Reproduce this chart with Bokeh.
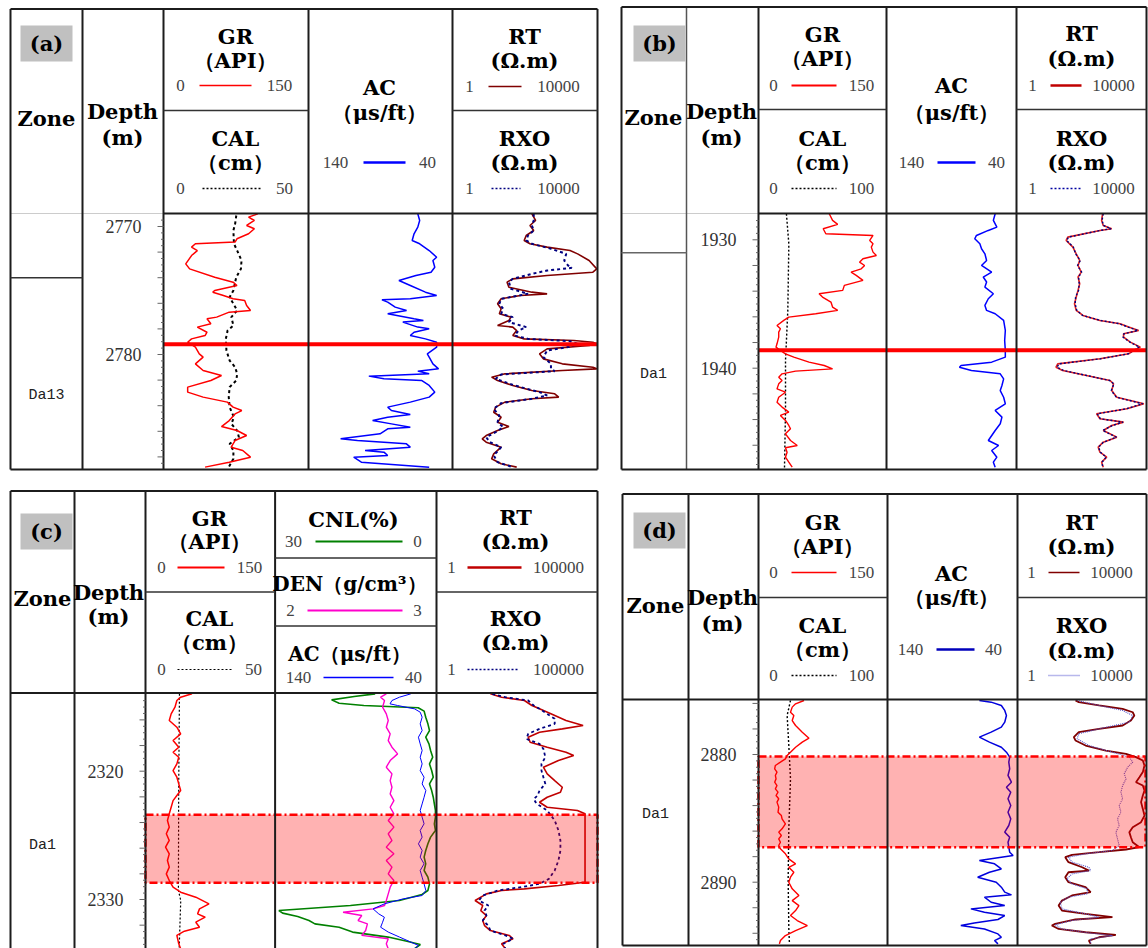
import numpy as np
from bokeh.plotting import figure
from bokeh.models import Range1d, LogScale
from bokeh.core.properties import value
from bokeh.embed import file_html
from bokeh.resources import INLINE

# ============================ DATA ============================
# ---------- panel (a) ----------
A_DEPTH_TICKS = [2770, 2780]
A_ZONE = "Da13"
A_ZONE_DEPTH = 2783.2
A_ZONE_TOP = 2774.0
A_MARK_DEPTH = 2779.2

A_GR_D = [2769.01, 2769.27, 2769.53, 2769.92, 2770.18, 2770.57, 2770.96, 2771.22, 2771.35, 2771.61,
          2771.88, 2772.27, 2772.92, 2773.31, 2773.96, 2774.35, 2774.61, 2775.0, 2775.13, 2775.39,
          2775.65, 2775.78, 2776.17, 2776.56, 2776.69, 2777.08, 2777.21, 2777.6, 2777.86, 2778.26,
          2778.52, 2778.78, 2779.04, 2779.43, 2779.95, 2780.21, 2780.73, 2781.25, 2781.64, 2782.03,
          2782.55, 2782.94, 2783.33, 2783.72, 2784.11, 2784.38, 2784.64, 2785.16, 2785.63, 2785.94,
          2786.33, 2786.72, 2787.24, 2787.5, 2788.02, 2788.41, 2788.8]
A_GR = [97.5, 88, 94, 86, 94, 88, 76, 74, 33, 29,
        35, 29, 23, 27, 53, 72, 76, 53, 51, 62,
        72, 84, 86, 90, 68, 55, 45, 49, 35, 45,
        43, 29, 25, 33, 37, 41, 33, 41, 60, 49,
        25, 25, 41, 66, 72, 81, 74, 68, 60, 76,
        86, 74, 70, 82, 90, 68, 43]

A_CAL_D = [2769.14, 2769.79, 2770.31, 2771.35, 2771.88, 2772.66, 2773.31, 2773.96, 2774.35, 2775.0,
           2775.52, 2776.04, 2776.56, 2777.08, 2777.73, 2778.13, 2778.78, 2779.69, 2780.47, 2780.99,
           2781.51, 2782.03, 2782.55, 2783.33, 2784.11, 2784.9, 2785.42, 2785.94, 2786.46, 2786.98,
           2787.5, 2788.15, 2788.8]
A_CAL = [25.1, 24.7, 24.1, 24.3, 25.4, 26.9, 26.7, 25.1, 24.7, 24.1,
         22.8, 24.1, 25.4, 23.4, 24.1, 22.1, 21.5, 21.7, 22.8, 24.7,
         25.4, 25.1, 22.8, 22.5, 22.8, 24.3, 23.4, 25.4, 26.0, 22.8,
         24.1, 24.1, 22.5]

A_AC_D = [2769.01, 2769.53, 2770.05, 2770.57, 2771.09, 2771.35, 2771.88, 2772.40, 2772.66, 2773.18,
          2773.57, 2773.83, 2774.22, 2774.61, 2775.13, 2775.39, 2775.65, 2775.73, 2775.91, 2776.30,
          2776.56, 2776.82, 2777.21, 2777.34, 2777.47, 2777.86, 2777.99, 2778.26, 2778.52, 2778.78,
          2779.04, 2779.43, 2779.95, 2780.21, 2780.73, 2781.12, 2781.30, 2781.51, 2781.69, 2781.90,
          2782.03, 2782.42, 2782.94, 2783.33, 2783.72, 2784.11, 2784.38, 2784.69, 2784.90, 2785.16,
          2785.42, 2785.68, 2785.81, 2786.20, 2786.59, 2786.72, 2786.98, 2787.24, 2787.50, 2787.63,
          2787.89, 2788.02, 2788.41, 2788.80]
A_AC = [64.1, 62.8, 64.1, 66.7, 68.0, 62.8, 56.2, 51.0, 53.6, 52.3,
        54.9, 65.4, 77.2, 69.3, 58.8, 51.0, 69.3, 89.0, 85.0, 79.8,
        71.9, 85.0, 66.7, 60.2, 74.5, 64.1, 56.2, 66.7, 69.3, 58.8,
        51.0, 51.0, 57.5, 56.2, 53.6, 49.7, 64.1, 56.2, 98.1, 87.6,
        61.5, 56.2, 52.3, 56.2, 69.3, 85.0, 82.4, 69.3, 85.0, 95.5,
        82.4, 69.3, 85.0, 90.3, 117.7, 106.0, 72.0, 69.3, 100.7, 87.6,
        85.0, 108.6, 103.3, 56.2]

A_RT_D = [2769.01, 2769.53, 2769.92, 2770.31, 2770.70, 2771.09, 2771.35, 2771.61, 2771.88, 2772.14,
          2772.66, 2773.31, 2773.57, 2773.83, 2774.09, 2774.35, 2774.74, 2775.13, 2775.26, 2775.39,
          2775.65, 2776.04, 2776.43, 2776.82, 2777.08, 2777.34, 2777.73, 2777.86, 2778.13, 2778.52,
          2778.78, 2778.91, 2779.04, 2779.17, 2779.30, 2779.56, 2779.95, 2780.34, 2780.73, 2780.99,
          2781.12, 2781.25, 2781.51, 2781.77, 2782.03, 2782.42, 2782.81, 2783.07, 2783.33, 2783.46,
          2783.72, 2784.11, 2784.51, 2784.90, 2785.29, 2785.63, 2785.94, 2786.33, 2786.59, 2786.85,
          2787.24, 2787.76, 2788.15, 2788.54, 2788.80]
A_RT = [155, 196, 137, 174, 108, 95, 137, 407, 1750, 2830,
        5870, 9540, 7460, 407, 46, 32, 36, 155, 407, 75,
        22, 17.5, 22, 19.6, 41, 36, 17.5, 46, 59, 46,
        95, 2230, 7460, 9540, 5870, 407, 251, 321, 1070, 7460,
        9540, 1070, 28, 12, 17.5, 46, 155, 660, 850, 155,
        28, 15.5, 13.7, 22, 17.5, 36, 17.5, 8.5, 6.6, 8.5,
        22, 13.7, 12, 22, 59]

A_RXO_D = [2769.01, 2769.53, 2769.92, 2770.31, 2770.70, 2771.09, 2771.35, 2771.74, 2772.14, 2772.66,
           2773.05, 2773.23, 2773.44, 2773.70, 2774.09, 2774.35, 2774.87, 2775.26, 2775.65, 2776.04,
           2776.43, 2776.82, 2777.08, 2777.47, 2777.86, 2778.13, 2778.52, 2778.78, 2778.96, 2779.17,
           2779.38, 2779.69, 2780.21, 2780.73, 2781.12, 2781.30, 2781.56, 2781.90, 2782.42, 2782.94,
           2783.20, 2783.46, 2783.80, 2784.24, 2784.77, 2785.29, 2785.68, 2786.07, 2786.46, 2786.85,
           2787.24, 2787.89, 2788.41, 2788.80]
A_RXO = [174, 174, 155, 174, 121, 108, 155, 520, 1370, 1210,
         1550, 1960, 407, 155, 46, 36, 41, 121, 22, 19.6,
         25, 22, 46, 36, 108, 66, 52, 121, 1750, 2830,
         1750, 407, 321, 520, 520, 660, 22, 15.5, 52, 251,
         407, 155, 22, 13.7, 19.6, 17.5, 25, 15.5, 8.5, 10.7,
         22, 13.7, 17.5, 46]

# ---------- panel (b) ----------
B_DEPTH_TICKS = [1930, 1940]
B_ZONE = "Da1"
B_ZONE_DEPTH = 1940.5
B_ZONE_TOP = 1931.0
B_MARK_DEPTH = 1938.6

B_GR_D = [1927.97, 1928.49, 1928.80, 1929.14, 1929.53, 1929.66, 1930.05, 1930.31, 1930.57, 1930.96,
          1931.22, 1931.48, 1931.74, 1932.00, 1932.26, 1932.52, 1932.77, 1933.16, 1933.55, 1933.94,
          1934.20, 1934.46, 1934.85, 1935.24, 1935.50, 1935.76, 1936.02, 1936.28, 1936.67, 1936.93,
          1937.19, 1937.58, 1938.10, 1938.36, 1938.62, 1938.88, 1939.14, 1939.53, 1939.79, 1940.05,
          1940.23, 1940.44, 1940.70, 1940.96, 1941.22, 1941.61, 1941.87, 1942.26, 1942.66, 1943.03,
          1943.42, 1943.68, 1944.07, 1944.46, 1944.72, 1945.11, 1945.63, 1946.02, 1946.20, 1946.54,
          1946.93, 1947.32, 1947.71]
B_GR = [82.9, 86.8, 92.8, 75.8, 78.9, 134.2, 130.3, 134.2, 132.2, 134.2,
        138.1, 122.4, 118.4, 124.3, 120.4, 108.5, 114.5, 122.4, 100.6, 98.7,
        71.0, 75.0, 84.9, 86.8, 92.8, 67.1, 35.5, 29.6, 21.7, 25.7,
        23.7, 23.7, 21.7, 20.5, 25.7, 31.6, 41.4, 59.2, 77.0, 86.8,
        43.4, 27.6, 23.7, 27.6, 23.7, 21.7, 31.6, 23.7, 21.7, 27.6,
        35.5, 25.7, 31.6, 35.5, 37.5, 31.6, 37.5, 45.4, 31.6, 33.5,
        31.6, 35.5, 39.5]

B_CAL_D = [1927.97, 1930.31, 1935.50, 1939.40, 1943.29, 1947.84]
B_CAL = [21.8, 23.7, 22.9, 21.1, 21.1, 20.3]

B_AC_D = [1927.97, 1928.49, 1929.01, 1929.27, 1929.66, 1929.92, 1930.31, 1930.70, 1931.09, 1931.61,
          1932.00, 1932.52, 1932.90, 1933.29, 1933.68, 1934.20, 1934.59, 1935.11, 1935.50, 1935.76,
          1936.28, 1937.06, 1937.84, 1938.62, 1939.14, 1939.53, 1939.79, 1939.92, 1940.18, 1940.44,
          1940.83, 1941.35, 1941.74, 1942.26, 1942.77, 1943.29, 1943.81, 1944.33, 1944.85, 1945.63,
          1946.02, 1946.41, 1946.93, 1947.32, 1947.71]
B_AC = [56.4, 57.8, 55.1, 61.7, 70.8, 72.1, 68.2, 66.9, 64.3, 63.0,
        66.9, 59.1, 65.6, 63.0, 64.3, 57.8, 61.7, 64.3, 63.0, 56.4,
        49.9, 48.6, 49.1, 48.6, 48.6, 59.1, 82.6, 83.9, 74.7, 52.5,
        49.9, 51.2, 52.5, 49.9, 48.6, 56.4, 51.2, 52.5, 56.4, 61.7,
        53.8, 59.1, 55.1, 57.8, 56.4]

B_RT_D = [1927.97, 1928.49, 1928.88, 1929.14, 1929.27, 1929.79, 1930.05, 1930.57, 1931.09, 1931.61,
          1932.00, 1932.52, 1932.90, 1933.42, 1933.94, 1934.46, 1934.98, 1935.50, 1935.89, 1936.28,
          1936.54, 1936.80, 1937.06, 1937.32, 1937.58, 1937.97, 1938.36, 1938.62, 1938.88, 1939.27,
          1939.66, 1939.92, 1940.18, 1940.57, 1940.96, 1941.22, 1941.74, 1942.26, 1942.77, 1943.16,
          1943.55, 1943.94, 1944.20, 1944.46, 1944.85, 1945.37, 1945.76, 1946.15, 1946.54, 1946.93,
          1947.32, 1947.71]
B_RT = [468, 436, 490, 895, 387, 39, 34.7, 56, 71, 91,
        81, 102, 81, 91, 81, 71, 63, 71, 115, 387,
        1630, 3000, 6150, 2090, 2090, 3380, 6930, 4270, 3000, 387,
        19, 16.8, 27, 147, 795, 1020, 895, 1290, 8900, 2650,
        303, 387, 2090, 895, 490, 1290, 490, 342, 387, 627,
        436, 490]
B_RXO = [490, 450, 500, 850, 400, 41, 36, 58, 68, 95,
         78, 105, 84, 88, 84, 68, 66, 74, 112, 400,
         1580, 2900, 5800, 2150, 2000, 3300, 6500, 4100, 2900, 400,
         21, 18, 29, 150, 780, 1050, 870, 1250, 8200, 2550,
         320, 400, 2000, 950, 470, 1250, 500, 350, 400, 600,
         450, 470]

# ---------- panel (c) ----------
C_DEPTH_TICKS = [2320, 2330]
C_ZONE = "Da1"
C_ZONE_DEPTH = 2325.8
C_BOX = [2323.4, 2328.7]

C_GR_D = [2313.97, 2314.23, 2314.49, 2315.01, 2315.53, 2316.05, 2316.57, 2317.09, 2317.61, 2318.13,
          2318.52, 2318.91, 2319.43, 2319.95, 2320.47, 2320.99, 2321.51, 2321.90, 2322.29, 2322.81,
          2323.32, 2323.84, 2324.36, 2324.88, 2325.40, 2325.92, 2326.44, 2326.96, 2327.48, 2328.00,
          2328.52, 2329.04, 2329.43, 2329.82, 2330.34, 2330.73, 2331.12, 2331.38, 2331.77, 2332.16,
          2332.47, 2332.80, 2333.45, 2333.84]
C_GR = [53.8, 40.7, 36.3, 34.1, 29.7, 27.5, 36.3, 40.7, 31.9, 38.5,
        31.9, 38.5, 36.3, 31.9, 36.3, 38.5, 40.7, 36.3, 31.9, 29.7,
        27.5, 25.4, 27.5, 24.1, 27.5, 23.2, 27.5, 25.4, 27.5, 24.1,
        27.5, 31.9, 40.7, 58.2, 73.5, 62.5, 60.3, 69.1, 58.2, 62.5,
        45.0, 36.3, 38.5, 40.7]

C_CAL_D = [2313.97, 2321.51, 2329.30, 2330.08, 2331.90, 2333.84]
C_CAL = [13.1, 12.8, 12.7, 13.6, 13.3, 13.0]

C_CNL_D = [2313.97, 2314.18, 2314.44, 2314.70, 2314.88, 2315.06, 2315.32, 2315.79, 2316.31, 2316.83,
           2317.35, 2317.87, 2318.39, 2318.91, 2319.43, 2319.95, 2320.47, 2320.99, 2321.51, 2322.03,
           2322.55, 2323.06, 2323.58, 2324.10, 2324.62, 2325.14, 2325.66, 2326.18, 2326.70, 2327.22,
           2327.74, 2328.26, 2328.78, 2329.30, 2329.61, 2330.08, 2330.47, 2330.86, 2331.06, 2331.32,
           2331.64, 2331.90, 2332.16, 2332.54, 2332.93, 2333.25, 2333.51, 2333.84]
C_CNL = [11.4, 15.3, 19.5, 18.1, 13.5, 3.4, 2.3, 2.0, 1.6, 1.3,
         2.0, 1.4, 1.1, 0.7, 1.3, 0.9, 0.6, 1.3, 0.9, 0.6,
         0.4, 0.2, 0.2, 0.4, 0.2, 1.1, 1.6, 2.0, 2.3, 2.0,
         2.3, 1.6, 1.3, 1.6, 2.7, 6.9, 16.0, 29.3, 28.6, 25.8,
         23.7, 22.6, 18.1, 15.6, 9.0, 5.5, 3.0, 4.1]

C_DEN_D = [2313.97, 2314.23, 2314.49, 2315.01, 2315.53, 2316.05, 2316.57, 2317.09, 2317.61, 2318.13,
           2318.65, 2319.17, 2319.69, 2320.21, 2320.73, 2321.25, 2321.77, 2322.29, 2322.81, 2323.32,
           2323.84, 2324.36, 2324.88, 2325.40, 2325.92, 2326.44, 2326.96, 2327.48, 2328.00, 2328.52,
           2329.04, 2329.56, 2330.08, 2330.47, 2330.73, 2330.99, 2331.25, 2331.64, 2331.90, 2332.42,
           2332.80, 2333.06, 2333.45, 2333.84]
C_DEN = [2.689, 2.654, 2.678, 2.666, 2.689, 2.701, 2.689, 2.713, 2.701, 2.724,
         2.759, 2.713, 2.689, 2.724, 2.713, 2.724, 2.713, 2.736, 2.713, 2.736,
         2.701, 2.736, 2.701, 2.724, 2.689, 2.736, 2.689, 2.724, 2.701, 2.736,
         2.713, 2.701, 2.689, 2.678, 2.607, 2.421, 2.537, 2.514, 2.572, 2.561,
         2.537, 2.701, 2.689, 2.701]

C_AC_D = [2313.97, 2314.23, 2314.49, 2314.75, 2314.88, 2315.14, 2315.40, 2315.79, 2316.31, 2316.83,
          2317.35, 2317.87, 2318.39, 2318.91, 2319.43, 2319.95, 2320.47, 2320.99, 2321.51, 2322.03,
          2322.55, 2323.06, 2323.58, 2324.10, 2324.62, 2325.14, 2325.66, 2326.18, 2326.70, 2327.22,
          2327.74, 2328.26, 2328.78, 2329.30, 2329.69, 2329.95, 2330.34, 2330.73, 2331.12, 2331.38,
          2331.77, 2332.16, 2332.54, 2332.93, 2333.32, 2333.58, 2333.84]
C_AC = [55.9, 62.9, 67.6, 68.8, 64.1, 53.6, 50.1, 48.9, 50.1, 48.9,
        51.2, 50.1, 48.9, 50.1, 48.9, 50.1, 47.7, 48.9, 46.6, 47.7,
        48.9, 50.1, 48.9, 47.7, 50.1, 48.9, 51.2, 48.9, 50.1, 47.7,
        50.1, 48.9, 47.7, 46.6, 48.9, 60.6, 72.3, 79.3, 75.8, 72.3,
        73.4, 74.6, 69.9, 62.9, 55.9, 51.2, 53.6]

C_RT_D = [2313.97, 2314.23, 2314.49, 2314.88, 2315.14, 2315.53, 2316.05, 2316.44, 2316.70, 2316.96,
          2317.35, 2317.74, 2318.13, 2318.52, 2318.78, 2319.17, 2319.69, 2320.21, 2320.73, 2321.25,
          2321.64, 2322.03, 2322.42, 2322.81, 2323.06, 2323.32, 2328.65, 2328.91, 2329.17, 2329.30,
          2329.56, 2330.08, 2330.47, 2330.86, 2331.25, 2331.64, 2332.03, 2332.42, 2332.80, 2333.06,
          2333.45, 2333.84]
C_RT = [47, 105, 537, 915, 1580, 3570, 10500, 35700, 8080, 1580,
        705, 810, 2740, 10500, 18200, 6130, 2090, 2740, 4690, 8080,
        7050, 2740, 1580, 2740, 23800, 41000, 41000, 6130, 537, 105,
        35.7, 15.8, 27.3, 23.8, 35.7, 27.3, 31, 47, 181, 238,
        105, 138]

C_RXO_D = [2313.97, 2314.23, 2314.49, 2314.88, 2315.14, 2315.53, 2315.92, 2316.31, 2316.70, 2317.09,
           2317.48, 2317.87, 2318.26, 2318.91, 2319.43, 2319.95, 2320.47, 2320.99, 2321.51, 2321.90,
           2322.16, 2322.42, 2322.68, 2323.06, 2323.84, 2324.62, 2325.40, 2326.18, 2326.96, 2327.74,
           2328.39, 2328.78, 2329.04, 2329.30, 2329.69, 2330.08, 2330.47, 2330.86, 2331.25, 2331.64,
           2332.03, 2332.42, 2332.80, 2333.06, 2333.45, 2333.84]
C_RXO = [53.7, 138, 705, 1050, 1580, 2740, 4690, 4690, 1580, 705,
         617, 1580, 2090, 2400, 1820, 1820, 2090, 2400, 1580, 1380,
         1050, 1200, 1580, 2740, 4690, 6130, 7050, 7050, 6130, 4690,
         3100, 1580, 407, 81, 27.3, 20.8, 40.8, 31, 35.7, 27.3,
         40.8, 47, 138, 238, 120, 138]

# ---------- panel (d) ----------
D_DEPTH_TICKS = [2880, 2890]
D_ZONE = "Da1"
D_ZONE_DEPTH = 2884.7
D_BOX = [2880.16, 2887.26]

D_GR_D = [2875.77, 2876.03, 2876.29, 2876.69, 2876.95, 2877.34, 2877.73, 2878.25, 2878.72, 2879.03,
          2879.43, 2879.82, 2880.08, 2880.34, 2880.60, 2880.86, 2881.12, 2881.38, 2881.64, 2881.91,
          2882.17, 2882.43, 2882.69, 2882.95, 2883.21, 2883.47, 2883.73, 2884.12, 2884.52, 2884.78,
          2885.04, 2885.43, 2885.82, 2886.08, 2886.34, 2886.61, 2886.87, 2887.13, 2887.39, 2887.78,
          2888.17, 2888.56, 2888.83, 2889.22, 2889.61, 2890.00, 2890.52, 2891.04, 2891.44, 2891.83,
          2892.22, 2892.61, 2893.00, 2893.40, 2893.79, 2894.18, 2894.57, 2894.83]
D_GR = [52.9, 43.1, 39.2, 37.2, 41.1, 39.2, 43.1, 50.9, 58.7, 50.9,
        43.1, 37.2, 33.3, 31.3, 25.5, 19.6, 18.8, 21.5, 19.6, 20.4,
        18.8, 21.5, 19.6, 22.7, 20.4, 23.5, 21.5, 23.5, 22.7, 26.6,
        27.4, 31.3, 27.4, 23.5, 26.6, 23.5, 25.5, 23.5, 25.5, 31.3,
        35.2, 43.1, 35.2, 41.1, 37.2, 35.2, 39.2, 47.0, 39.2, 47.0,
        43.1, 37.2, 45.0, 56.8, 43.1, 31.3, 25.5, 24.3]

D_CAL_D = [2875.77, 2876.95, 2879.30, 2881.91, 2885.82, 2889.74, 2893.66, 2894.83]
D_CAL = [24.8, 22.2, 23.5, 24.8, 23.5, 23.0, 23.5, 24.0]

D_AC_D = [2875.77, 2875.90, 2876.16, 2876.55, 2876.95, 2877.47, 2877.86, 2878.25, 2878.64, 2879.03,
          2879.43, 2879.82, 2880.21, 2880.60, 2881.12, 2881.64, 2882.17, 2882.56, 2882.95, 2883.47,
          2883.99, 2884.52, 2885.04, 2885.56, 2886.08, 2886.48, 2886.87, 2887.26, 2887.65, 2887.91,
          2888.12, 2888.30, 2888.56, 2888.96, 2889.22, 2889.61, 2890.00, 2890.39, 2890.78, 2890.99,
          2891.17, 2891.57, 2891.83, 2892.09, 2892.35, 2892.61, 2892.92, 2893.19, 2893.39, 2893.66,
          2894.05, 2894.31, 2894.57, 2894.83]
D_AC = [69.7, 60.7, 52.9, 50.3, 49.0, 50.3, 52.9, 60.7, 69.7, 62.0,
        52.9, 49.0, 46.5, 47.2, 46.5, 47.8, 45.2, 49.0, 45.7, 47.8,
        45.7, 47.8, 45.7, 47.2, 50.3, 46.5, 47.8, 47.2, 46.5, 43.9,
        58.1, 69.7, 58.1, 52.9, 62.0, 71.0, 56.8, 52.9, 50.3, 45.2,
        65.8, 60.7, 50.3, 76.2, 65.8, 50.3, 55.5, 73.6, 83.9, 65.8,
        55.5, 52.9, 58.1, 55.5]

D_RT_D = [2875.77, 2875.90, 2876.16, 2876.42, 2876.69, 2876.95, 2877.34, 2877.73, 2877.99, 2878.25,
          2878.64, 2878.90, 2879.30, 2879.69, 2879.95, 2880.21, 2880.47, 2880.86, 2881.38, 2881.78,
          2882.17, 2882.43, 2882.82, 2883.21, 2883.73, 2884.26, 2884.78, 2885.30, 2885.69, 2886.08,
          2886.48, 2886.87, 2887.26, 2887.44, 2887.65, 2887.86, 2888.04, 2888.43, 2888.83, 2889.09,
          2889.22, 2889.61, 2890.00, 2890.39, 2890.78, 2891.04, 2891.44, 2891.83, 2892.22, 2892.48,
          2892.74, 2892.92, 2893.26, 2893.39, 2893.66, 2893.92, 2894.13, 2894.31, 2894.57, 2894.83]
D_RT = [63, 80, 347, 1910, 3970, 4470, 3480, 1910, 347, 80,
        56, 63, 131, 565, 2440, 5030, 8240, 9290, 8240, 6440,
        5030, 8240, 9290, 8240, 7250, 8240, 9290, 7250, 3970, 3100,
        3480, 3970, 6440, 2440, 347, 49, 30, 38, 102, 166,
        38, 30, 38, 131, 189, 49, 23.7, 18.6, 23.7, 131,
        915, 63, 14.5, 11.4, 18.6, 131, 1170, 347, 166, 189]

D_RXO_D = [2875.77, 2876.16, 2876.55, 2876.95, 2877.47, 2877.99, 2878.38, 2878.77, 2879.30, 2879.82,
           2880.21, 2880.60, 2880.99, 2881.51, 2881.91, 2882.43, 2882.95, 2883.47, 2883.99, 2884.52,
           2885.04, 2885.56, 2886.08, 2886.61, 2887.13, 2887.52, 2887.78, 2888.04, 2888.43, 2888.83,
           2889.09, 2889.35, 2889.74, 2890.13, 2890.52, 2890.91, 2891.17, 2891.57, 2892.09, 2892.48,
           2892.74, 2893.00, 2893.34, 2893.66, 2893.97, 2894.18, 2894.44, 2894.83]
D_RXO = [71, 347, 1910, 3970, 3100, 347, 80, 71, 166, 915,
         3100, 3970, 2750, 2150, 2440, 1910, 1690, 1910, 1490, 1690,
         1320, 1490, 1170, 1320, 1490, 915, 131, 38, 49, 166,
         189, 49, 34, 49, 148, 148, 38, 21, 23.7, 131,
         347, 49, 14.5, 23.7, 166, 915, 189, 189]

# ============================ FIGURE ============================
W, H = 1148, 948
X0, Y0 = 0, 0
p = figure(width=W, height=H, x_range=Range1d(X0, X0 + W), y_range=Range1d(Y0 + H, Y0),
           x_axis_type=None, y_axis_type=None, toolbar_location=None, output_backend="svg",
           min_border=0, title=None)
p.outline_line_color = None
p.background_fill_color = "white"
p.border_fill_color = "white"

XR, XS, YR = {}, {}, {}


def lin(v0, v1, f0, f1):
    k = (v1 - v0) / (f1 - f0)
    s = v0 - f0 * k
    return s, s + k


def fx(px):
    return (px - X0) / W


def fy(py):
    return (Y0 + H - py) / H


def xr(name, px0, px1, v0, v1, log=False):
    if log:
        s, e = lin(np.log10(v0), np.log10(v1), fx(px0), fx(px1))
        XR[name] = Range1d(start=10 ** s, end=10 ** e)
        XS[name] = LogScale()
    else:
        s, e = lin(v0, v1, fx(px0), fx(px1))
        XR[name] = Range1d(start=s, end=e)


def yr(name, d0, py0, d1, py1):
    s, e = lin(d0, d1, fy(py0), fy(py1))
    YR[name] = Range1d(start=s, end=e)


# depth scales (page pixel of two labelled depths)
yr("a", 2770, 226, 2780, 354)
yr("b", 1930, 239.3, 1940, 367.7)
yr("c", 2320, 770.7, 2330, 899.0)
yr("d", 2880, 754, 2890, 881.7)

# track scales
xr("a_gr", 163, 308, 0, 150); xr("a_cal", 163, 308, 0, 50)
xr("a_ac", 308, 452, 140, 40); xr("a_rt", 452, 597, 1, 1e4, log=True)
xr("b_gr", 758, 886, 0, 150); xr("b_cal", 758, 886, 0, 100)
xr("b_ac", 886, 1016, 140, 40); xr("b_rt", 1016, 1145, 1, 1e4, log=True)
xr("c_gr", 145, 274.6, 0, 150); xr("c_cal", 145, 274.6, 0, 50)
xr("c_cnl", 274.6, 436, 30, 0); xr("c_den", 274.6, 436, 2, 3); xr("c_ac", 274.6, 436, 140, 40)
xr("c_rt", 436, 597, 1, 1e5, log=True)
xr("d_gr", 758, 887, 0, 150); xr("d_cal", 758, 887, 0, 100)
xr("d_ac", 887, 1017.7, 140, 40); xr("d_rt", 1017.7, 1145, 1, 1e4, log=True)

p.extra_x_ranges = XR
p.extra_x_scales = XS
p.extra_y_ranges = YR

HEAD = "DejaVu Serif"
SERIF = "Liberation Serif"
MONO = "Liberation Mono"
INK = "#1c1c1c"


def T(x, y, s, size=21, bold=True, align="center", color="#000000", font=HEAD, yname="default"):
    p.text(x=[x], y=[y], text=[s], y_range_name=yname, text_font=value(font),
           text_font_size=value(f"{size}px"), text_font_style="bold" if bold else "normal",
           text_align=align, text_baseline="middle", text_color=color)


def SEG(x0, y0, x1, y1, color=INK, w=2.0, dash="solid", yname="default"):
    p.segment(x0=[x0], y0=[y0], x1=[x1], y1=[y1], line_color=color, line_width=w,
              line_dash=dash, y_range_name=yname)


def curve(xn, yn, vals, deps, color, w=1.5, dash="solid"):
    p.line(x=vals, y=deps, x_range_name=xn, y_range_name=yn, line_color=color,
           line_width=w, line_dash=dash)


def scale(xl, xrr, y, left, right, x0, x1, color, w, dash="solid"):
    T(xl, y, left, size=17, bold=False, color="#444444", font=SERIF)
    T(xrr, y, right, size=17, bold=False, color="#444444", font=SERIF)
    SEG(x0, y, x1, y, color=color, w=w, dash=dash)


def depth_axis(yn, xb, d_top, d_bot, labels):
    ticks = np.arange(np.floor(d_top) + 0.5, d_bot, 0.5)
    ticks = ticks[(ticks > d_top + 0.1) & (ticks < d_bot - 0.1)]
    major = np.isclose(np.mod(ticks, 2.0), 0.0)
    lens = np.where(major, 6.0, 2.5)
    p.segment(x0=xb - lens, y0=ticks, x1=np.full(len(ticks), xb), y1=ticks,
              line_color="#666666", line_width=1, y_range_name=yn)
    p.text(x=[xb - 22] * len(labels), y=labels, text=[str(v) for v in labels], y_range_name=yn,
           text_font=value(SERIF), text_font_size=value("18px"), text_align="right",
           text_baseline="middle", text_color="#333333")


def label_box(x0, x1, y0, y1, s):
    p.quad(left=[x0], right=[x1], top=[y0], bottom=[y1], fill_color="#c0c0c0", line_color=None)
    T((x0 + x1) / 2, (y0 + y1) / 2, s, size=21)


RED = "#ff0000"
BLUE = "#0000ff"

# ============================ CURVES ============================
# (a)
curve("a_cal", "a", A_CAL, A_CAL_D, "#000000", 2.0, "3 3")
curve("a_gr", "a", A_GR, A_GR_D, RED, 1.5)
curve("a_ac", "a", A_AC, A_AC_D, BLUE, 1.5)
curve("a_rt", "a", A_RT, A_RT_D, "#800000", 1.6)
curve("a_rt", "a", A_RXO, A_RXO_D, "#000080", 2.0, "3 3")
# (b)
curve("b_cal", "b", B_CAL, B_CAL_D, "#000000", 1.4, "2 2")
curve("b_gr", "b", B_GR, B_GR_D, RED, 1.4)
curve("b_ac", "b", B_AC, B_AC_D, BLUE, 1.5)
curve("b_rt", "b", B_RT, B_RT_D, "#e02020", 1.6)
curve("b_rt", "b", B_RXO, B_RT_D, "#000080", 1.4, "2 2")
# (c)
curve("c_cal", "c", C_CAL, C_CAL_D, "#000000", 1.2, "2 2")
curve("c_gr", "c", C_GR, C_GR_D, RED, 1.5)
curve("c_cnl", "c", C_CNL, C_CNL_D, "#008000", 1.6)
curve("c_den", "c", C_DEN, C_DEN_D, "#ff00cc", 1.4)
curve("c_ac", "c", C_AC, C_AC_D, BLUE, 1.0)
curve("c_rt", "c", C_RT, C_RT_D, "#c00000", 1.6)
curve("c_rt", "c", C_RXO, C_RXO_D, "#000080", 1.8, "3 3")
# (d)
curve("d_cal", "d", D_CAL, D_CAL_D, "#000000", 1.4, "2 2")
curve("d_gr", "d", D_GR, D_GR_D, RED, 1.4)
curve("d_ac", "d", D_AC, D_AC_D, "#0000dd", 1.5)
curve("d_rt", "d", D_RT, D_RT_D, "#800000", 1.8)
curve("d_rt", "d", D_RXO, D_RXO_D, "#5050c8", 1.1, "1 1")

# highlighted intervals
p.quad(left=[145], right=[597], top=[C_BOX[0]], bottom=[C_BOX[1]], y_range_name="c",
       fill_color="#ff0000", fill_alpha=0.3, line_color="#ff0000", line_width=2.5, line_dash="8 3 2 3")
p.quad(left=[758], right=[1145], top=[D_BOX[0]], bottom=[D_BOX[1]], y_range_name="d",
       fill_color="#ff0000", fill_alpha=0.3, line_color="#ff0000", line_width=2.5, line_dash="8 3 2 3")
SEG(163, A_MARK_DEPTH, 597, A_MARK_DEPTH, color=RED, w=4, yname="a")
SEG(758, B_MARK_DEPTH, 1146, B_MARK_DEPTH, color=RED, w=4, yname="b")

# ============================ PANEL (a) ============================
ax = [10, 82, 163, 308, 452, 597]
top, mid, head, bot = 8.5, 110, 213, 469
SEG(ax[0], head, ax[2], head, color="#cccccc", w=1)
for x in ax:
    SEG(x, top, x, bot)
SEG(ax[0], top, ax[5], top)
SEG(ax[0], bot, ax[5], bot)
SEG(ax[2], head, ax[5], head)
SEG(ax[2], mid, ax[3], mid, w=1.5, color="#333333")
SEG(ax[4], mid, ax[5], mid, w=1.5, color="#333333")
SEG(ax[0], A_ZONE_TOP, ax[1], A_ZONE_TOP, color="#333333", w=1.5, yname="a")
label_box(20, 72, 25, 61, "(a)")
T(46, 118, "Zone")
T(122, 111, "Depth"); T(122, 137, "(m)")
T(235, 36, "GR"); T(235, 60, "（API）")
scale(180, 279, 85, "0", "150", 199, 251, RED, 1.5)
T(235, 138, "CAL"); T(235, 162, "（cm）")
scale(180, 284, 188, "0", "50", 202, 260, "#000000", 1.5, "2 2")
T(379, 87, "AC"); T(379, 112, "（μs/ft）")
scale(335, 427, 162, "140", "40", 363, 405, BLUE, 2.5)
T(524, 36, "RT"); T(524, 60, "(Ω.m)")
scale(469, 558, 86, "1", "10000", 488, 521, "#800000", 1.5)
T(524, 138, "RXO"); T(524, 162, "(Ω.m)")
scale(469, 558, 188, "1", "10000", 491, 520, "#000080", 1.5, "2 2")
depth_axis("a", ax[2], 2769.0, 2789.0, A_DEPTH_TICKS)
T(46, A_ZONE_DEPTH, A_ZONE, size=15, bold=False, font=MONO, color="#222222", yname="a")

# ============================ PANEL (b) ============================
bx = [621, 686, 758, 886, 1016, 1146]
top, mid, head, bot = 6.5, 109, 213, 469
SEG(bx[0], head, bx[2], head, color="#cccccc", w=1)
SEG(bx[0], top, bx[0], bot)
SEG(bx[1], top, bx[1], bot, color="#555555", w=1.5)
for x in bx[2:]:
    SEG(x, top, x, bot)
SEG(bx[0], top, bx[5], top)
SEG(bx[0], bot, bx[5], bot)
SEG(bx[2], head, bx[5], head)
SEG(bx[2], mid, bx[3], mid, w=1.5, color="#333333")
SEG(bx[4], mid, bx[5], mid, w=1.5, color="#333333")
SEG(bx[0], B_ZONE_TOP, bx[1], B_ZONE_TOP, color="#666666", w=1.5, yname="b")
label_box(633, 685, 25, 61, "(b)")
T(653, 117, "Zone")
T(721, 111, "Depth"); T(721, 137, "(m)")
T(822, 34, "GR"); T(822, 58, "（API）")
scale(773, 861, 85, "0", "150", 791, 836, RED, 2.2)
T(822, 138, "CAL"); T(822, 162, "（cm）")
scale(773, 861, 188, "0", "100", 791, 836, "#000000", 1.4, "2 2")
T(951, 85, "AC"); T(951, 112, "（μs/ft）")
scale(911, 996, 162, "140", "40", 937, 975, BLUE, 2.5)
T(1081, 33, "RT"); T(1081, 58, "(Ω.m)")
scale(1032, 1113, 85, "1", "10000", 1050, 1081, "#c00000", 2.5)
T(1081, 138, "RXO"); T(1081, 162, "(Ω.m)")
scale(1032, 1113, 188, "1", "10000", 1050, 1081, "#0000a0", 1.3, "2 2")
depth_axis("b", bx[2], 1928.0, 1947.9, B_DEPTH_TICKS)
T(653, B_ZONE_DEPTH, B_ZONE, size=15, bold=False, font=MONO, color="#222222", yname="b")

# ============================ PANEL (c) ============================
cx = [10, 74, 145, 274.6, 436, 597]
top, head, bot = 490.5, 692.5, 948
for x in cx:
    SEG(x, top, x, bot)
SEG(cx[0], top, cx[5], top)
SEG(cx[0], head, cx[5], head)
SEG(cx[2], 591.5, cx[3], 591.5, w=1.5, color="#333333")
SEG(cx[3], 557.5, cx[4], 557.5, w=1.5, color="#333333")
SEG(cx[3], 625.5, cx[4], 625.5, w=1.5, color="#333333")
SEG(cx[4], 591.5, cx[5], 591.5, w=1.5, color="#333333")
label_box(20, 72, 513, 549, "(c)")
T(42, 598, "Zone")
T(108, 592, "Depth"); T(108, 616, "(m)")
T(209, 518, "GR"); T(209, 541, "（API）")
scale(161, 249, 567, "0", "150", 177, 224, RED, 2.2)
T(209, 618, "CAL"); T(209, 642, "（cm）")
scale(161, 253, 669, "0", "50", 177, 233, "#000000", 1.2, "2 2")
T(353, 519, "CNL(%)")
scale(293, 417, 541, "30", "0", 315, 402, "#008000", 2.2)
T(349, 583, "DEN（g/cm³）", size=20)
scale(290, 417, 610, "2", "3", 307, 402, "#ff00cc", 2.2)
T(349, 653, "AC（μs/ft）", size=20)
scale(298, 413, 677, "140", "40", 323, 393, BLUE, 1.5)
T(515, 517, "RT"); T(515, 541, "(Ω.m)")
scale(451, 558, 567, "1", "100000", 467, 521, "#c00000", 2.5)
T(515, 618, "RXO"); T(515, 642, "(Ω.m)")
scale(451, 558, 669, "1", "100000", 467, 518, "#000080", 1.6, "2 2")
depth_axis("c", cx[2], 2313.9, 2333.8, C_DEPTH_TICKS)
T(42, C_ZONE_DEPTH, C_ZONE, size=15, bold=False, font=MONO, color="#222222", yname="c")

# ============================ PANEL (d) ============================
dx = [622, 688, 758, 887, 1017, 1146]
top, mid, head, bot = 493.5, 597, 699, 945
for x in dx:
    SEG(x, top, x, bot)
SEG(dx[0], top, dx[5], top)
SEG(dx[0], bot, dx[5], bot)
SEG(dx[0], head, dx[5], head)
SEG(dx[2], mid, dx[3], mid, w=1.5, color="#333333")
SEG(dx[4], mid, dx[5], mid, w=1.5, color="#333333")
label_box(633, 685, 512, 548, "(d)")
T(655, 605, "Zone")
T(722, 597, "Depth"); T(722, 623, "(m)")
T(822, 522, "GR"); T(822, 546, "（API）")
scale(773, 861, 572, "0", "150", 791, 836, RED, 1.5)
T(822, 625, "CAL"); T(822, 649, "（cm）")
scale(773, 861, 675, "0", "100", 791, 836, "#000000", 1.4, "2 2")
T(951, 573, "AC"); T(951, 597, "（μs/ft）")
scale(910, 993, 649, "140", "40", 936, 974, "#0000bb", 2.5)
T(1081, 522, "RT"); T(1081, 546, "(Ω.m)")
scale(1031, 1111, 572, "1", "10000", 1048, 1079, "#800000", 1.5)
T(1081, 625, "RXO"); T(1081, 650, "(Ω.m)")
scale(1031, 1111, 675, "1", "10000", 1048, 1079, "#7070d8", 1.5, "1 1")
depth_axis("d", dx[2], 2875.6, 2894.9, D_DEPTH_TICKS)
T(655, D_ZONE_DEPTH, D_ZONE, size=15, bold=False, font=MONO, color="#222222", yname="d")

open("out.html", "w").write(file_html(p, INLINE))
